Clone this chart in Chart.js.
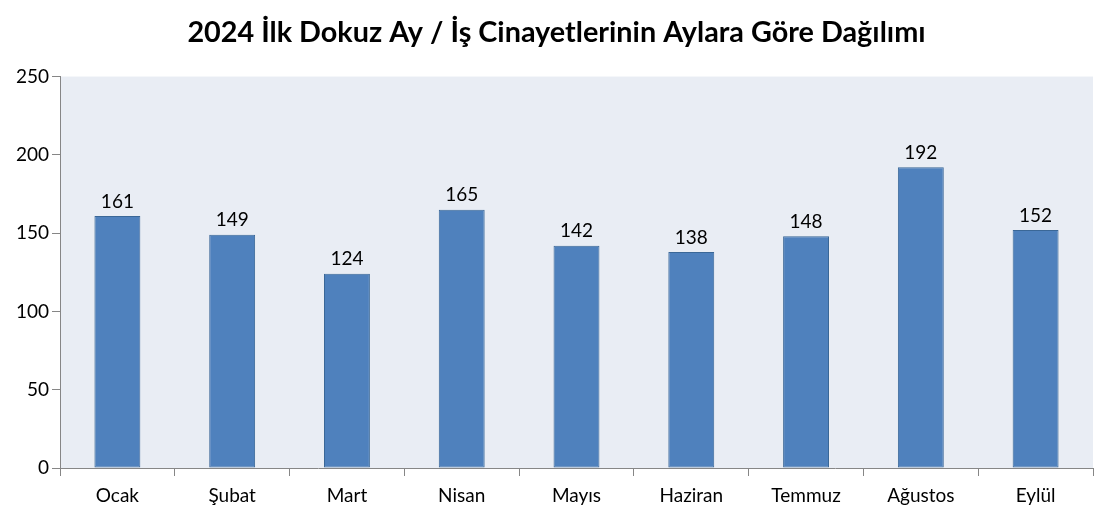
<!DOCTYPE html>
<html>
<head>
<meta charset="utf-8">
<script src="https://cdn.jsdelivr.net/npm/chart.js@4"></script>
<style>
  html, body { margin: 0; padding: 0; background: #fff; }
  #wrap { width: 1114px; height: 511px; }
</style>
</head>
<body>
<div id="wrap"><canvas id="monthChart"></canvas></div>
<script>
let months = ["Ocak", "Şubat", "Mart", "Nisan", "Mayıs", "Haziran", "Temmuz", "Ağustos", "Eylül"];
let deaths = [161, 149, 124, 165, 142, 138, 148, 192, 152];
let yTicks = [0, 50, 100, 150, 200, 250];

const FONT = "Lato, 'Liberation Sans', sans-serif";

// paints the plot area background
const plotBg = {
    id: 'plotBg',
    beforeDraw(c) {
        let a = c.chartArea;
        c.ctx.save();
        c.ctx.fillStyle = '#e9edf4';
        c.ctx.fillRect(a.left, a.top, a.right - a.left, a.bottom - a.top);
        c.ctx.restore();
    }
};

// value above each bar
const barLabels = {
    id: 'barLabels',
    afterDatasetsDraw(c) {
        let ctx = c.ctx;
        let meta = c.getDatasetMeta(0);
        ctx.save();
        ctx.font = "19px " + FONT;
        ctx.fillStyle = '#000';
        ctx.textAlign = 'center';
        ctx.textBaseline = 'bottom';
        meta.data.forEach((bar, i) => {
            ctx.fillText(deaths[i], bar.x, bar.y - 5);
        });
        ctx.restore();
    }
};

new Chart(document.getElementById('monthChart'), {
    type: 'bar',
    data: {
        labels: months,
        datasets: [{
            data: deaths,
            backgroundColor: '#4f81bd',
            borderColor: '#3a6797',
            borderWidth: 1,
            borderSkipped: false,
            categoryPercentage: 1,
            barPercentage: 0.4
        }]
    },
    options: {
        responsive: true,
        maintainAspectRatio: false,
        animation: false,
        layout: { padding: { left: 10, right: 11, top: 0, bottom: 4 } },
        plugins: {
            legend: { display: false },
            tooltip: { enabled: false },
            title: {
                display: true,
                text: '2024 İlk Dokuz Ay / İş Cinayetlerinin Aylara Göre Dağılımı',
                color: '#000',
                font: { family: FONT, size: 28.8, weight: 'bold' },
                padding: { top: 15, bottom: 27 }
            }
        },
        scales: {
            x: {
                afterFit: (axis) => { axis.height = 39; },
                grid: { drawOnChartArea: false, tickLength: 8, color: '#868686' },
                border: { color: '#868686' },
                ticks: { color: '#000', font: { family: FONT, size: 19 }, padding: 8 }
            },
            y: {
                min: 0,
                max: 250,
                afterFit: (axis) => { axis.width = 50; },
                afterBuildTicks: (axis) => { axis.ticks = yTicks.map(v => ({ value: v })); },
                grid: { drawOnChartArea: false, tickLength: 8, color: '#868686' },
                border: { color: '#868686' },
                ticks: { color: '#000', font: { family: FONT, size: 19 }, padding: 3 }
            },
            // empty spacer on the right so the plot ends where the original does
            spacer: {
                type: 'linear',
                position: 'right',
                afterFit: (axis) => { axis.width = 10; },
                grid: { display: false },
                border: { display: false },
                ticks: { display: false }
            }
        }
    },
    plugins: [plotBg, barLabels]
});
</script>
</body>
</html>
